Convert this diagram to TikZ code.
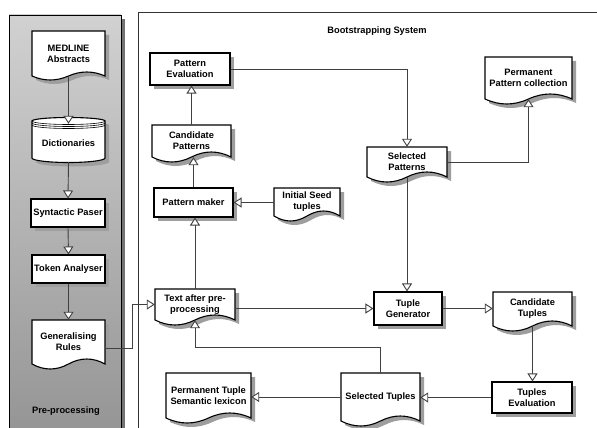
\documentclass[tikz,border=0pt]{standalone}
\usepackage{fontspec}
\setmainfont{Liberation Sans}
\usetikzlibrary{arrows.meta}
\newcommand\lbl{\fontsize{9.3}{11}\selectfont\bfseries}
\colorlet{shcol}{black!38}
\tikzset{
  boxtext/.style={inner sep=0pt, align=center, font=\lbl},
  outline/.style={draw=black, line width=1.1pt, fill=white},
  shadowfill/.style={fill=shcol, shift={(4,4)}},
  conn/.style={draw=black!75, line width=0.9pt, -{Triangle[length=8pt,width=10pt,fill=white]}},
}
% document shape: name, x1, ytop, x2, y of wave centre line, amplitude, text
\newcommand\docnode[7]{%
  \pgfmathsetmacro\dw{#4-#2}\pgfmathsetmacro\dhh{#5-#3}%
  \pgfmathsetmacro\dcx{(#2+#4)/2}\pgfmathsetmacro\dcy{(#3+#5)/2}%
  \pgfmathsetmacro\dk{4*#6/3}%
  \def\docpathspec{(#2,#3) -- (#4,#3) -- (#4,#5)
     .. controls ({#4-\dw/6},{#5-\dk}) and ({#4-\dw/3},{#5-\dk}) .. (\dcx,#5)
     .. controls ({#2+\dw/3},{#5+\dk}) and ({#2+\dw/6},{#5+\dk}) .. (#2,#5) -- cycle}%
  \fill[shadowfill] \docpathspec;
  \path[outline] \docpathspec;
  \node[boxtext, minimum width=\dw pt, minimum height=\dhh pt] (#1) at (\dcx,\dcy) {#7};
}
% rectangle: name, x1, y1, x2, y2, text
\newcommand\rectnode[6]{%
  \pgfmathsetmacro\dw{#4-#2}\pgfmathsetmacro\dhh{#5-#3}%
  \pgfmathsetmacro\dcx{(#2+#4)/2}\pgfmathsetmacro\dcy{(#3+#5)/2}%
  \fill[shadowfill] (#2,#3) rectangle (#4,#5);
  \node[boxtext, outline, minimum width=\dw pt, minimum height=\dhh pt] (#1) at (\dcx,\dcy) {#6};
}
\begin{document}
\begin{tikzpicture}[x=1pt,y=-1pt]
\clip (0,0) rectangle (597,428);
\fill[white] (0,0) rectangle (597,428);
% left panel
\fill[black!55] (121,19) rectangle (125,440);
\draw[black, line width=0.8pt, top color=black!18, bottom color=black!42] (9,15) rectangle (121,440);
% right panel
\draw[black!80, line width=0.8pt] (138,440) -- (138,12) -- (600,12);
\node[font=\lbl] (title) at (377,31.5) {Bootstrapping System};
\node[font=\lbl] (pre) at (66,411) {Pre-processing};

% left panel nodes
\docnode{med}{32}{31}{105}{76}{4}{MEDLINE\\Abstracts}
\def\cylspec{(32,121) -- (32,158) arc[start angle=180,end angle=360,x radius=36.5pt,y radius=4.5pt]
   -- (105,121) arc[start angle=0,end angle=180,x radius=36.5pt,y radius=3.5pt] -- cycle}
\fill[shadowfill] \cylspec;
\path[outline] \cylspec;
\foreach \yy in {121,123,125}
  \draw[line width=0.6pt] (32,\yy) arc[start angle=180,end angle=360,x radius=36.5pt,y radius=3.5pt];
\node[boxtext, minimum width=73pt, minimum height=38pt] (dict) at (68.5,143) {Dictionaries};
\rectnode{syn}{31}{199}{105}{227}{Syntactic Paser}
\rectnode{tok}{32}{255}{105}{283}{Token Analyser}
\docnode{gr}{32}{320}{105}{364}{5}{Generalising\\Rules}

% right panel nodes
\rectnode{pe}{150}{53}{230}{85}{Pattern\\Evaluation}
\docnode{cp}{152}{125}{231}{157}{5}{Candidate\\Patterns}
\rectnode{pm}{154}{188}{233}{217}{Pattern maker}
\docnode{ist}{274}{188}{340}{216}{5}{Initial Seed\\tuples}
\docnode{sp}{367}{147}{447}{177}{5}{Selected\\Patterns}
\docnode{ppc}{485}{57}{572}{99}{5}{Permanent\\Pattern collection}
\docnode{tap}{155}{289}{235}{320}{5}{Text after pre-\\processing}
\rectnode{tg}{374}{292}{442}{325}{Tuple\\Generator}
\docnode{ct}{493}{292}{572}{326}{5}{Candidate\\Tuples}
\rectnode{te}{492}{382}{572}{413}{Tuples\\Evaluation}
\docnode{st}{341}{373}{420}{421}{5}{Selected Tuples}
\docnode{ptsl}{166}{373}{251}{418}{5}{Permanent Tuple\\Semantic lexicon}

% left connectors
\draw[conn] (med.south) -- (dict.north);
\draw[conn] (dict.south) -- (syn.north);
\draw[conn] (syn.south) -- (tok.north);
\draw[conn] (tok.south) -- (gr.north);
\draw[conn] ([yshift=-6pt]gr.east) -- ++(27,0) |- (tap.west);

% right connectors
\draw[conn] (pm.north) -- (pm.north |- cp.south);
\draw[conn] (cp.north) -- (cp.north |- pe.south);
\draw[conn] (pe.east) -| (sp.north);
\draw[conn] (sp.east) -| (ppc.south);
\draw[conn] (sp.south) -- (sp.south |- tg.north);
\draw[conn] (ist.west |- pm.east) -- (pm.east);
\draw[conn] (tap.north) -- (tap.north |- pm.south);
\draw[conn] (tap.east |- tg.west) -- (tg.west);
\draw[conn] (tg.east) -- (tg.east -| ct.west);
\draw[conn] (ct.south) -- (ct.south |- te.north);
\draw[conn] (te.west) -- (te.west -| st.east);
\draw[conn] (st.west) -- (st.west -| ptsl.east);
\draw[conn] (st.north) -- ++(0,-25) -| (tap.south);
\end{tikzpicture}
\end{document}
